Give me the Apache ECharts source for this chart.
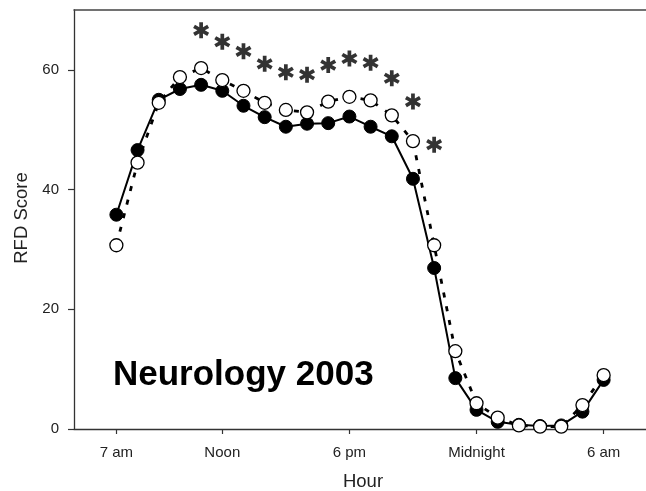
<!DOCTYPE html>
<html>
<head>
<meta charset="utf-8">
<script src="https://cdn.jsdelivr.net/npm/echarts@6/dist/echarts.min.js"></script>
<style>html,body{margin:0;padding:0;background:#fff}#c{width:646px;height:491px}</style>
</head>
<body>
<div id="c"></div>
<script>
// Hours (7 = 7 am, 24 = midnight, 30 = 6 am next day)
const hours = [7,8,9,10,11,12,13,14,15,16,17,18,19,20,21,22,23,24,25,26,27,28,29,30];
const filledScores = [35.8,46.6,55.0,56.8,57.5,56.5,54.0,52.1,50.5,51.0,51.1,52.2,50.5,48.9,41.8,26.9,8.5,3.2,1.2,0.7,0.5,0.6,2.9,8.2];
const openScores   = [30.7,44.5,54.5,58.8,60.3,58.3,56.5,54.5,53.3,52.9,54.7,55.5,54.9,52.4,48.1,30.7,13.0,4.3,1.9,0.6,0.4,0.4,4.0,9.0];
const starHours  = [11,12,13,14,15,16,17,18,19,20,21,22];
const starScores = [66.6,64.7,63.1,61.0,59.6,59.2,60.8,61.9,61.2,58.6,54.7,47.5];
const xTickValues = [7,12,18,24,30];
const xTickLabels = ['7 am','Noon','6 pm','Midnight','6 am'];
const yTickValues = [0,20,40,60];

function pairs(xs, ys){ return xs.map((x,i)=>[x, ys[i]]); }

// asterisk outline (6 arms, single non-overlapping polygon)
function asteriskPath(){
  const L = 7, w = 1.6;
  const pts = [];
  for (let k = 0; k < 6; k++){
    const a = k*Math.PI/3;
    const ux = Math.sin(a), uy = -Math.cos(a);
    const px = Math.cos(a), py = Math.sin(a);
    pts.push([L*ux - w*px, L*uy - w*py]);
    pts.push([L*ux + w*px, L*uy + w*py]);
    const b = a + Math.PI/6, r = 2*w;
    pts.push([r*Math.sin(b), -r*Math.cos(b)]);
  }
  return 'path://M' + pts.map(p=>p[0].toFixed(2)+' '+p[1].toFixed(2)).join(' L') + ' Z';
}

const chart = echarts.init(document.getElementById('c'), null, {renderer:'canvas'});
const txt = '#222';
const ff = 'Liberation Sans, Arial, sans-serif';
chart.setOption({
  animation:false,
  backgroundColor:'#fff',
  grid:{left:74, top:10, right:-4, bottom:62, containLabel:false},
  xAxis:[{
    type:'value', min:5, max:32, position:'bottom',
    splitLine:{show:false},
    axisLine:{show:true, onZero:false, lineStyle:{color:'#333', width:1.3}},
    axisTick:{show:true, customValues:xTickValues, length:5, inside:false, lineStyle:{color:'#333', width:1.2}},
    axisLabel:{show:true, customValues:xTickValues, margin:16, color:txt, fontSize:15, fontFamily:ff,
      formatter:(v)=>{const i=xTickValues.indexOf(v); return i>=0?xTickLabels[i]:'';}}
  },{
    type:'value', min:5, max:32, position:'top',
    splitLine:{show:false}, axisTick:{show:false}, axisLabel:{show:false},
    axisLine:{show:true, onZero:false, lineStyle:{color:'#444', width:1.5}}
  }],
  yAxis:{
    type:'value', min:0, max:70,
    splitLine:{show:false},
    axisLine:{show:true, onZero:false, lineStyle:{color:'#333', width:1.3}},
    axisTick:{show:true, customValues:yTickValues, length:6, lineStyle:{color:'#333', width:1.2}},
    axisLabel:{show:true, customValues:yTickValues, margin:15, color:txt, fontSize:15, fontFamily:ff}
  },
  series:[
    {
      type:'line', data:pairs(hours, filledScores), xAxisIndex:0,
      symbol:'circle', symbolSize:13,
      lineStyle:{color:'#000', width:2},
      itemStyle:{color:'#000', borderColor:'#000', borderWidth:1},
      z:2
    },
    {
      type:'line', data:pairs(hours, openScores), xAxisIndex:0,
      symbol:'circle', symbolSize:13,
      lineStyle:{color:'#000', width:2.8, type:[5,9]},
      itemStyle:{color:'#fff', borderColor:'#000', borderWidth:1.3},
      z:3
    },
    {
      type:'scatter', data:pairs(starHours, starScores), xAxisIndex:0,
      symbol:asteriskPath(), symbolSize:16,
      itemStyle:{color:'#000'},
      z:4
    }
  ],
  graphic:[
    {type:'text', x:22, y:218, rotation:Math.PI/2,
      style:{text:'RFD Score', fill:txt, fontSize:18.5, fontFamily:ff, align:'center', verticalAlign:'middle'}},
    {type:'text', x:363, y:482,
      style:{text:'Hour', fill:txt, fontSize:18.5, fontFamily:ff, align:'center', verticalAlign:'middle'}},
    {type:'text', x:113, y:375,
      style:{text:'Neurology 2003', fill:'#000', fontSize:35, fontWeight:'bold', fontFamily:ff, align:'left', verticalAlign:'middle'}}
  ]
});
</script>
</body>
</html>
